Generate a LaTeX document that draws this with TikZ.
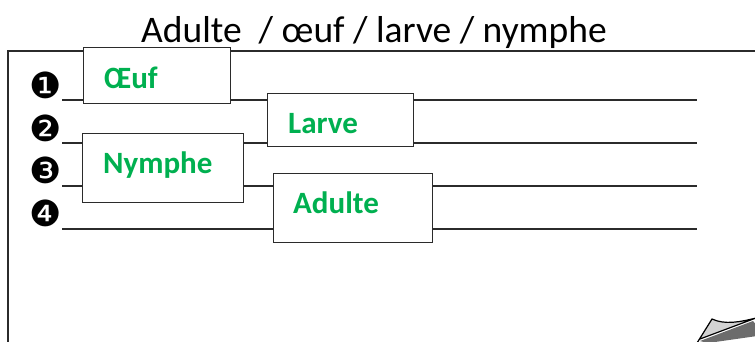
\documentclass[tikz,border=0pt]{standalone}
\usepackage{fontspec}
\setmainfont{Carlito}
\newfontfamily\dejavu{DejaVu Sans}
\definecolor{lgreen}{HTML}{00B050}
\definecolor{ink}{HTML}{2B2B2B}
\tikzset{
  box/.style={draw=ink, line width=1.3pt, fill=white, rectangle, inner sep=0pt, anchor=north west},
  lbl/.style={anchor=base west, inner sep=0pt, text=lgreen, font=\fontsize{31}{32}\selectfont\bfseries},
  num/.style={inner sep=0pt, font=\dejavu\fontsize{36}{37}\selectfont},
  rule/.style={draw=ink, line width=1.3pt},
}
\begin{document}
\begin{tikzpicture}[x=1pt,y=-1pt]
\useasboundingbox (0,0) rectangle (755,341);
% frame
\draw[ink, line width=1.3pt] (755,51) -- (8,51) -- (8,345);
% title
\node[anchor=base, inner sep=0pt, font=\fontsize{37.5}{39}\selectfont] (title) at (374,42) {Adulte\ \ / œuf / larve / nymphe};
% line start/end coordinates
\coordinate (s1) at (62,100); \coordinate (e1) at (697,100);
\coordinate (s2) at (62,143); \coordinate (e2) at (697,143);
\coordinate (s3) at (62,186); \coordinate (e3) at (697,186);
\coordinate (s4) at (62,229); \coordinate (e4) at (697,229);
% rules (drawn under boxes)
\draw[rule] (s1) -- (e1);
\draw[rule] (s2) -- (e2);
\draw[rule] (s3) -- (e3);
\draw[rule] (s4) -- (e4);
% boxes
\node[box, minimum width=147pt, minimum height=56pt] (oeuf) at (83,47) {};
\node[box, minimum width=146pt, minimum height=53pt] (larve) at (267,93) {};
\node[box, minimum width=161pt, minimum height=69pt] (nymphe) at (82,133) {};
\node[box, minimum width=159pt, minimum height=69pt] (adulte) at (273,173) {};
% labels
\node[lbl] (toeuf) at (104,88) {Œuf};
\node[lbl] (tlarve) at (288,133) {Larve};
\node[lbl] (tnymphe) at (103,173) {Nymphe};
\node[lbl] (tadulte) at (293,213) {Adulte};
% numbers
\node[num] (n1) at (46,85) {❶};
\node[num] (n2) at (46,128) {❷};
\node[num] (n3) at (46,170) {❸};
\node[num] (n4) at (46,213) {❹};
% page curl
\fill[gray!85!black] (753,321) -- (757,326) -- (757,336) -- (708,343) -- (700,341) -- cycle;
\filldraw[fill=gray!35, draw=black, line width=1.2pt] (697,343) -- (712,319) .. controls (725,325) and (740,322) .. (756,318) -- (700,339) ;
\end{tikzpicture}
\end{document}
